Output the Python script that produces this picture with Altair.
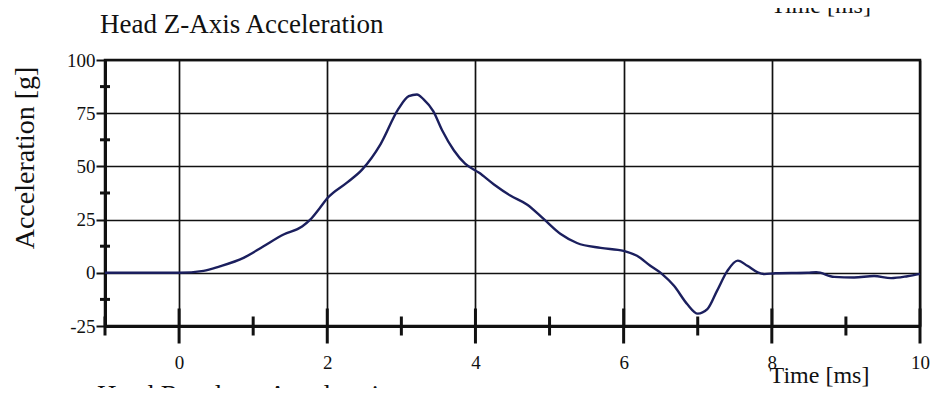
import altair as alt
import pandas as pd

# ---- data ----
time_ms = [-1.0, -0.5, 0.0, 0.33, 0.55, 0.87, 1.14, 1.41, 1.66, 1.77, 1.9, 2.0, 2.27, 2.47,
           2.72, 2.96, 3.10, 3.21, 3.30, 3.43, 3.55, 3.71, 3.86, 4.05, 4.25, 4.47, 4.70,
           4.92, 5.15, 5.37, 5.69, 6.0, 6.18, 6.36, 6.52, 6.68, 6.86, 7.0, 7.13, 7.26,
           7.40, 7.54, 7.67, 7.81, 7.90, 8.05, 8.48, 8.6, 8.84, 9.11, 9.38, 9.61, 9.83, 10.0]
accel_g = [0.0, 0.0, 0.0, 0.9, 3.0, 7.0, 12.5, 18.0, 21.8, 25.0, 30.5, 35.0, 42.5, 48.5,
           60.5, 77.0, 83.0, 83.8, 81.5, 76.0, 67.0, 57.5, 51.3, 47.0, 41.5, 36.3, 32.0,
           25.3, 18.2, 14.0, 11.7, 10.3, 8.0, 3.3, -0.6, -6.1, -14.8, -19.2, -17.1, -8.5,
           0.9, 5.7, 3.3, 0.2, -0.6, -0.2, 0.0, 0.3, -1.9, -2.2, -1.5, -2.5, -1.6, -0.5]

x_tick_labels = [0, 2, 4, 6, 8, 10]
x_major_ticks = [0, 2, 4, 6, 8, 10]
x_minor_ticks = [-1, 1, 3, 5, 7, 9]
y_tick_labels = [-25, 0, 25, 50, 75, 100]
y_minor_ticks = [-12.5, 12.5, 37.5, 62.5, 87.5]

title_text = "Head Z-Axis Acceleration"
x_title = "Time [ms]"
y_title = "Acceleration [g]"
prev_chart_x_title = "Time [ms]"
next_chart_title = "Head Resultant Acceleration"

FONT = "Liberation Serif"
INK = "#111111"
LINE = "#1b1f5e"
HYPHEN_LABEL = "replace(datum.label, '\u2212', '-')"

xscale = alt.Scale(domain=[-1, 10], nice=False, zero=False)
yscale = alt.Scale(domain=[-25, 100], nice=False, zero=False)

xaxis = alt.Axis(values=x_tick_labels, grid=True, gridColor=INK, gridWidth=1.7,
                 domainColor=INK, domainWidth=3, ticks=False,
                 labelFont=FONT, labelFontSize=19, labelColor=INK, labelPadding=27,
                 labelBaseline="top", labelFlush=False, labelOverlap=False,
                 labelExpr=HYPHEN_LABEL,
                 title=x_title, titleFont=FONT, titleFontSize=24, titleFontWeight="normal",
                 titleColor=INK, titleX=714, titleY=56, titleAlign="center",
                 titleBaseline="alphabetic")
yaxis = alt.Axis(values=y_tick_labels, grid=True, gridColor=INK, gridWidth=1.7,
                 domainColor=INK, domainWidth=3, ticks=True, tickSize=9, tickWidth=2,
                 tickColor=INK, labelFont=FONT, labelFontSize=19, labelColor=INK,
                 labelPadding=1, labelFlush=False, labelOverlap=False,
                 labelExpr=HYPHEN_LABEL,
                 title=y_title, titleFont=FONT, titleFontSize=28, titleFontWeight="normal",
                 titleColor=INK, titleAngle=270, titleX=-72, titleY=97.5,
                 titleAlign="center", titleBaseline="alphabetic")

df = pd.DataFrame({"t": time_ms, "v": accel_g})

line = alt.Chart(df).mark_line(color=LINE, strokeWidth=2.4, interpolate="monotone").encode(
    x=alt.X("t:Q", scale=xscale, axis=xaxis),
    y=alt.Y("v:Q", scale=yscale, axis=yaxis),
)

xmaj = alt.Chart(pd.DataFrame({"t": x_major_ticks, "v": [-25] * len(x_major_ticks)})).mark_tick(
    orient="vertical", size=35, thickness=3, color=INK, opacity=1).encode(
    x=alt.X("t:Q", scale=xscale, axis=xaxis),
    y=alt.Y("v:Q", scale=yscale, axis=yaxis),
)
xmin = alt.Chart(pd.DataFrame({"t": x_minor_ticks, "v": [-25] * len(x_minor_ticks)})).mark_tick(
    orient="vertical", size=19, thickness=3, color=INK, opacity=1).encode(
    x=alt.X("t:Q", scale=xscale, axis=xaxis),
    y=alt.Y("v:Q", scale=yscale, axis=yaxis),
)
ymin = alt.Chart(pd.DataFrame({"t": [-1] * len(y_minor_ticks), "v": y_minor_ticks})).mark_tick(
    orient="horizontal", size=10, thickness=3, color=INK, opacity=1).encode(
    x=alt.X("t:Q", scale=xscale, axis=xaxis),
    y=alt.Y("v:Q", scale=yscale, axis=yaxis),
)

def label(txt, x, y, size, align="left"):
    return alt.Chart(pd.DataFrame({"s": [txt]})).mark_text(
        font=FONT, fontSize=size, color=INK, align=align, baseline="alphabetic").encode(
        x=alt.value(x), y=alt.value(y), text="s:N")

title = label(title_text, -5, -27, 27)
prev_title = label(prev_chart_x_title, 716, -47, 24, align="center")
next_title = label(next_chart_title, -8, 344, 27)

chart = alt.layer(line, xmaj, xmin, ymin, title, prev_title, next_title).properties(
    width=815, height=266,
    autosize=alt.AutoSizeParams(type="none"),
    padding={"left": 97, "top": 52, "right": 10, "bottom": 62},
    background="white",
).configure_view(stroke=INK, strokeWidth=2.5).configure_axis(
    labelFont=FONT, titleFont=FONT
).configure_text(font=FONT)

chart.save("out.html", embed_options={"renderer": "svg", "actions": False})
